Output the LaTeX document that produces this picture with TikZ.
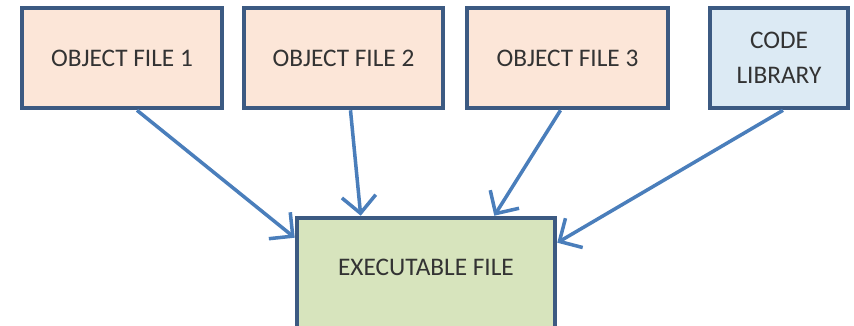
\documentclass[tikz,border=0pt]{standalone}
\usepackage{fontspec}
\setmainfont{Carlito}
\usetikzlibrary{arrows.meta,positioning}

\definecolor{boxline}{HTML}{3C5A82}
\definecolor{arrowblue}{HTML}{4A7EBB}
\definecolor{objfill}{HTML}{FCE6D8}
\definecolor{libfill}{HTML}{DCEAF4}
\definecolor{exefill}{HTML}{D7E4BD}
\definecolor{labelgray}{HTML}{333333}

\begin{document}
\begin{tikzpicture}
		% object files and the library feed the linker output
		[filebox/.style={rectangle,draw=boxline,line width=1.3pt,minimum height=1.0cm,
			text=labelgray,font=\fontsize{7.2}{9}\selectfont,align=center},
		link/.style={draw=arrowblue,line width=1pt,-{Straight Barb[length=1.7mm,width=3.4mm,line width=1pt]}}]
		\clip (0,0) rectangle (8.54,3.25);

		\node[filebox,fill=objfill,minimum width=2.0cm] (obj1) at (1.22,2.67) {OBJECT FILE 1};
		\node[filebox,fill=objfill,minimum width=1.99cm] (obj2) at (3.435,2.67) {OBJECT FILE 2};
		\node[filebox,fill=objfill,minimum width=2.01cm] (obj3) at (5.675,2.67) {OBJECT FILE 3};
		\node[filebox,fill=libfill,minimum width=1.38cm] (lib) at (7.79,2.67) {CODE\\[1pt]LIBRARY};

		% runs past the bottom edge, so only three sides show
		\node[filebox,fill=exefill,minimum width=2.58cm,minimum height=1.16cm,text depth=0.18cm] (exe) at (4.26,0.49) {EXECUTABLE FILE};

		\draw[link] ([xshift=0.15cm]obj1.south) -- ([yshift=-0.22cm]exe.north west);
		\draw[link] ([xshift=0.07cm]obj2.south) -- ([xshift=0.66cm]exe.north west);
		\draw[link] ([xshift=-0.07cm]obj3.south) -- ([xshift=-0.63cm]exe.north east);
		\draw[link] ([xshift=0.04cm]lib.south) -- ([yshift=-0.27cm]exe.north east);
	\end{tikzpicture}
\end{document}
